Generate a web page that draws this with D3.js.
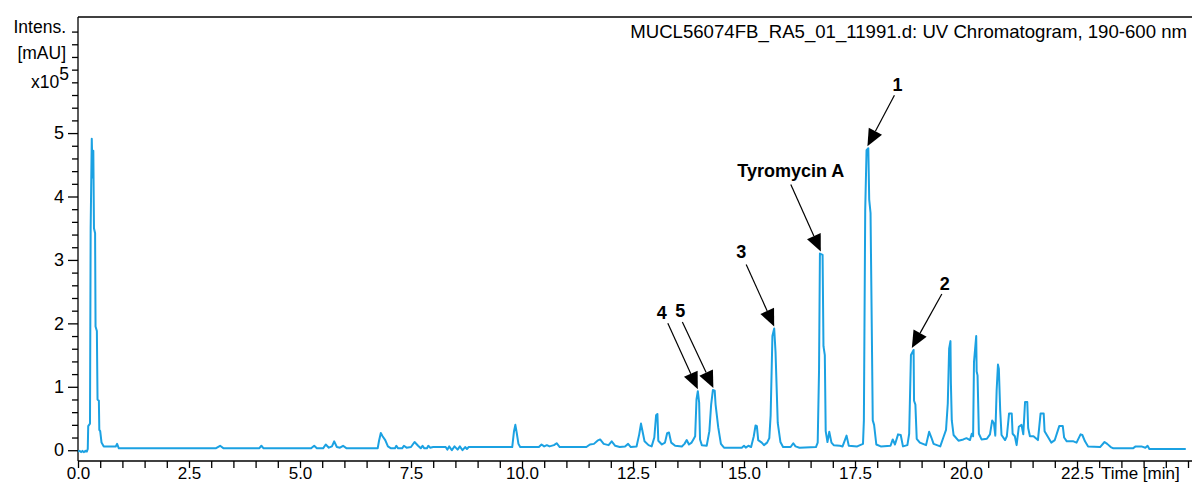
<!DOCTYPE html>
<html>
<head>
<meta charset="utf-8">
<script src="https://cdn.jsdelivr.net/npm/d3@7"></script>
<style>
body { margin: 0; background: #fff; }
svg { display: block; }
text { font-family: "Liberation Sans", Arial, sans-serif; fill: #000; }
</style>
</head>
<body>
<svg id="chart" width="1192" height="483"></svg>
<script>
// retention time [min]
var timeMin = [
	0.00, 0.04, 0.07, 0.10, 0.13, 0.17, 0.20, 0.22, 0.23, 0.27, 0.285, 0.31, 0.33, 0.345, 0.36, 0.385, 0.395, 0.425, 0.44, 0.47,
	0.48, 0.50, 0.53, 0.58, 0.85, 0.88, 0.92, 3.10, 3.20, 3.28, 4.08, 4.13, 4.18, 5.25, 5.32, 5.38, 5.52, 5.58, 5.65, 5.72,
	5.77, 5.83, 5.90, 5.97, 6.05, 6.75, 6.78, 6.82, 6.86, 6.92, 6.98, 7.05, 7.14, 7.17, 7.21, 7.30, 7.34, 7.40, 7.50, 7.58,
	7.66, 7.72, 7.76, 7.80, 7.86, 7.89, 7.93, 8.00, 8.28, 8.32, 8.36, 8.42, 8.48, 8.55, 8.60, 8.66, 8.72, 8.76, 8.80, 9.78,
	9.82, 9.85, 9.88, 9.92, 9.96, 10.38, 10.44, 10.50, 10.56, 10.62, 10.72, 10.78, 10.85, 11.45, 11.53, 11.62, 11.70, 11.76, 11.84, 11.95,
	12.02, 12.10, 12.20, 12.32, 12.39, 12.45, 12.58, 12.64, 12.68, 12.72, 12.76, 12.85, 12.92, 12.98, 13.02, 13.05, 13.07, 13.15, 13.22, 13.27,
	13.31, 13.36, 13.45, 13.60, 13.66, 13.71, 13.76, 13.82, 13.86, 13.90, 13.93, 13.96, 13.99, 14.01, 14.05, 14.16, 14.22, 14.26, 14.30, 14.34,
	14.36, 14.42, 14.48, 14.55, 14.95, 15.00, 15.04, 15.10, 15.16, 15.22, 15.26, 15.29, 15.32, 15.40, 15.45, 15.52, 15.57, 15.60, 15.64, 15.68,
	15.71, 15.76, 15.82, 15.88, 16.05, 16.11, 16.16, 16.25, 16.62, 16.66, 16.69, 16.71, 16.77, 16.79, 16.82, 16.84, 16.88, 16.92, 16.97, 17.02,
	17.16, 17.22, 17.31, 17.36, 17.55, 17.68, 17.70, 17.73, 17.76, 17.80, 17.82, 17.85, 17.88, 17.90, 17.93, 17.98, 18.08, 18.30, 18.35, 18.40,
	18.47, 18.53, 18.58, 18.68, 18.72, 18.76, 18.82, 18.83, 18.86, 18.89, 18.96, 19.10, 19.17, 19.22, 19.27, 19.42, 19.49, 19.55, 19.59, 19.62,
	19.65, 19.66, 19.68, 19.72, 19.83, 19.94, 20.01, 20.09, 20.13, 20.16, 20.18, 20.23, 20.24, 20.26, 20.29, 20.35, 20.47, 20.54, 20.59, 20.63,
	20.66, 20.69, 20.72, 20.74, 20.77, 20.80, 20.88, 20.92, 20.97, 21.03, 21.05, 21.10, 21.14, 21.19, 21.25, 21.29, 21.33, 21.38, 21.40, 21.44,
	21.52, 21.62, 21.68, 21.75, 21.77, 21.82, 21.92, 22.00, 22.10, 22.18, 22.21, 22.27, 22.42, 22.49, 22.58, 22.62, 22.68, 22.75, 23.02, 23.12,
	23.18, 23.26, 23.32, 23.76, 23.82, 23.95, 24.04, 24.09, 24.13, 24.35, 24.95
];

// intensity [mAU] x10^5
var intensity = [
	-0.02, -0.01, -0.03, -0.01, -0.03, -0.01, -0.02, 0.02, 0.38, 0.42, 3.50, 4.91, 4.30, 4.72, 3.50, 3.42, 1.95, 1.88, 0.80, 0.78,
	0.32, 0.30, 0.12, 0.06, 0.06, 0.10, 0.03, 0.03, 0.07, 0.03, 0.03, 0.07, 0.03, 0.03, 0.07, 0.03, 0.03, 0.09, 0.04, 0.06,
	0.14, 0.05, 0.04, 0.07, 0.03, 0.03, 0.15, 0.27, 0.22, 0.16, 0.06, 0.03, 0.03, 0.07, 0.03, 0.03, 0.07, 0.04, 0.05, 0.13,
	0.07, 0.03, 0.07, 0.03, 0.03, 0.07, 0.04, 0.05, 0.05, 0.01, 0.06, 0.00, 0.06, 0.01, 0.06, 0.00, 0.05, 0.02, 0.05, 0.05,
	0.30, 0.40, 0.28, 0.10, 0.05, 0.05, 0.09, 0.06, 0.08, 0.06, 0.08, 0.11, 0.05, 0.05, 0.09, 0.10, 0.15, 0.17, 0.10, 0.08,
	0.14, 0.07, 0.05, 0.06, 0.10, 0.05, 0.06, 0.25, 0.42, 0.28, 0.14, 0.08, 0.06, 0.20, 0.55, 0.57, 0.15, 0.09, 0.12, 0.27,
	0.28, 0.12, 0.07, 0.06, 0.10, 0.16, 0.09, 0.12, 0.17, 0.22, 0.80, 0.93, 0.75, 0.17, 0.08, 0.07, 0.30, 0.72, 0.95, 0.94,
	0.72, 0.36, 0.10, 0.04, 0.04, 0.07, 0.04, 0.07, 0.05, 0.22, 0.39, 0.38, 0.16, 0.12, 0.08, 0.12, 0.19, 0.55, 1.80, 1.92,
	1.55, 0.43, 0.13, 0.05, 0.05, 0.11, 0.06, 0.04, 0.05, 0.12, 1.26, 3.10, 3.08, 1.64, 1.50, 0.30, 0.13, 0.29, 0.12, 0.08,
	0.07, 0.06, 0.23, 0.07, 0.06, 0.10, 0.47, 3.78, 4.73, 4.76, 3.95, 3.74, 1.79, 0.47, 0.40, 0.09, 0.06, 0.07, 0.17, 0.09,
	0.25, 0.24, 0.06, 0.08, 0.26, 1.50, 1.58, 0.78, 0.72, 0.18, 0.12, 0.08, 0.29, 0.20, 0.10, 0.06, 0.20, 0.32, 0.74, 1.60,
	1.72, 1.05, 0.47, 0.24, 0.15, 0.17, 0.19, 0.16, 0.26, 0.22, 1.39, 1.80, 1.24, 1.18, 0.26, 0.17, 0.18, 0.25, 0.47, 0.42,
	0.23, 0.94, 1.35, 1.28, 0.63, 0.24, 0.16, 0.22, 0.58, 0.58, 0.26, 0.22, 0.08, 0.37, 0.40, 0.25, 0.76, 0.76, 0.35, 0.22,
	0.22, 0.16, 0.58, 0.58, 0.30, 0.24, 0.12, 0.16, 0.38, 0.38, 0.20, 0.14, 0.14, 0.12, 0.25, 0.24, 0.14, 0.06, 0.05, 0.13,
	0.10, 0.05, 0.03, 0.03, 0.06, 0.06, 0.04, 0.07, 0.02, 0.02, 0.02
];

var xTickLabels = ["0.0", "2.5", "5.0", "7.5", "10.0", "12.5", "15.0", "17.5", "20.0", "22.5"];
var yTickLabels = ["0", "1", "2", "3", "4", "5"];

var peakLabels = ["1", "Tyromycin A", "3", "2", "4", "5"];
var peakTimes = [17.78, 16.73, 15.68, 18.78, 13.96, 14.31];
var peakValues = [4.76, 3.10, 1.92, 1.58, 0.93, 0.95];

var title = "MUCL56074FB_RA5_01_11991.d: UV Chromatogram, 190-600 nm";

var svg = d3.select("#chart");
var plotLeft = 78, plotRight = 1188, plotTop = 17, plotBottom = 461;

var x = d3.scaleLinear().domain([0, 25]).range([plotLeft, plotRight]);
var y = d3.scaleLinear().domain([-0.17, 6.83]).range([plotBottom, plotTop]);

// frame: top line
svg.append("line")
	.attr("x1", plotLeft).attr("x2", 1192)
	.attr("y1", plotTop).attr("y2", plotTop)
	.style("stroke", "#000").style("stroke-width", 1.3);

// x axis, minor ticks every 0.5 min
var xMinor = d3.range(0, 25.01, 0.5);
var xAxis = svg.append("g")
	.attr("transform", "translate(0," + plotBottom + ")")
	.call(d3.axisBottom(x).tickValues(xMinor).tickSize(7).tickSizeOuter(0)
		.tickFormat(function (d) {
			var i = xTickLabels.indexOf(d.toFixed(1));
			return i >= 0 && Math.abs(d % 2.5) < 1e-6 ? xTickLabels[i] : "";
		}));
xAxis.select(".domain").attr("d", "M" + plotLeft + ",0H1192").style("stroke-width", 1.3);
xAxis.selectAll(".tick line").style("stroke-width", 1.3);
xAxis.selectAll("text").attr("y", 6).style("font-size", "17px");

svg.append("text")
	.attr("x", x(22.5) + 24).attr("y", plotBottom + 18)
	.style("font-size", "17px")
	.text("Time [min]");

// y axis, minor ticks every 0.2
var yMinor = d3.range(0, 6.61, 0.2).map(function (d) { return +d.toFixed(1); });
var yAxis = svg.append("g")
	.attr("transform", "translate(" + plotLeft + ",0)")
	.call(d3.axisLeft(y).tickValues(yMinor).tickSize(6).tickSizeOuter(0)
		.tickFormat(function (d) {
			var i = yTickLabels.indexOf(String(d));
			return i >= 0 ? yTickLabels[i] : "";
		}));
yAxis.select(".domain").attr("d", "M0," + plotTop + "V" + plotBottom).style("stroke-width", 1.3);
yAxis.selectAll(".tick line").style("stroke-width", 1.3)
	.attr("x2", function (d) { return yTickLabels.indexOf(String(d)) >= 0 ? -10 : -6; });
yAxis.selectAll("text").attr("x", -14).style("font-size", "18px");

// y axis title
var yTitle = svg.append("g").style("font-size", "17.5px").style("text-anchor", "end");
yTitle.append("text").attr("x", 66).attr("y", 33).text("Intens.");
yTitle.append("text").attr("x", 66).attr("y", 59).text("[mAU]");
var xTen = yTitle.append("text").attr("x", 69).attr("y", 88);
xTen.append("tspan").text("x10");
xTen.append("tspan").attr("dy", -8).text("5");

// chart title
svg.append("text")
	.attr("x", 1187).attr("y", 38)
	.style("text-anchor", "end")
	.style("font-size", "18.6px")
	.text(title);

// chromatogram trace
var line = d3.line()
	.x(function (d, i) { return x(timeMin[i]); })
	.y(function (d) { return y(d); });

svg.append("path")
	.datum(intensity)
	.attr("d", line)
	.style("fill", "none")
	.style("stroke", "#1ba1e2")
	.style("stroke-width", 2)
	.style("stroke-linejoin", "round");

// peak annotations: label offset and line start, relative to arrow tip
var labelOffsets = [[30, -62], [-30, -81], [-33, -75], [33, -64], [-36, -77], [-33, -77]];
var lineStarts = [[27, -51], [-30, -67], [-28, -62], [30, -54], [-30, -66], [-31, -66]];

peakLabels.forEach(function (label, i) {
	var tx = x(peakTimes[i]), ty = y(peakValues[i]) - 2;
	var sx = tx + lineStarts[i][0], sy = ty + lineStarts[i][1];
	var dx = tx - sx, dy = ty - sy, len = Math.sqrt(dx * dx + dy * dy);
	var ux = dx / len, uy = dy / len;
	var bx = tx - ux * 17, by = ty - uy * 17;
	var w = 7.5;

	svg.append("line")
		.attr("x1", sx).attr("y1", sy).attr("x2", bx).attr("y2", by)
		.style("stroke", "#000").style("stroke-width", 1.2);

	svg.append("polygon")
		.attr("points", [
			[tx, ty],
			[bx - uy * w, by + ux * w],
			[bx + uy * w, by - ux * w]
		].map(function (p) { return p.join(","); }).join(" "))
		.style("fill", "#000");

	svg.append("text")
		.attr("x", tx + labelOffsets[i][0]).attr("y", ty + labelOffsets[i][1])
		.attr("dy", "0.36em")
		.style("text-anchor", "middle")
		.style("font-size", "18px")
		.style("font-weight", "bold")
		.text(label);
});
</script>
</body>
</html>
